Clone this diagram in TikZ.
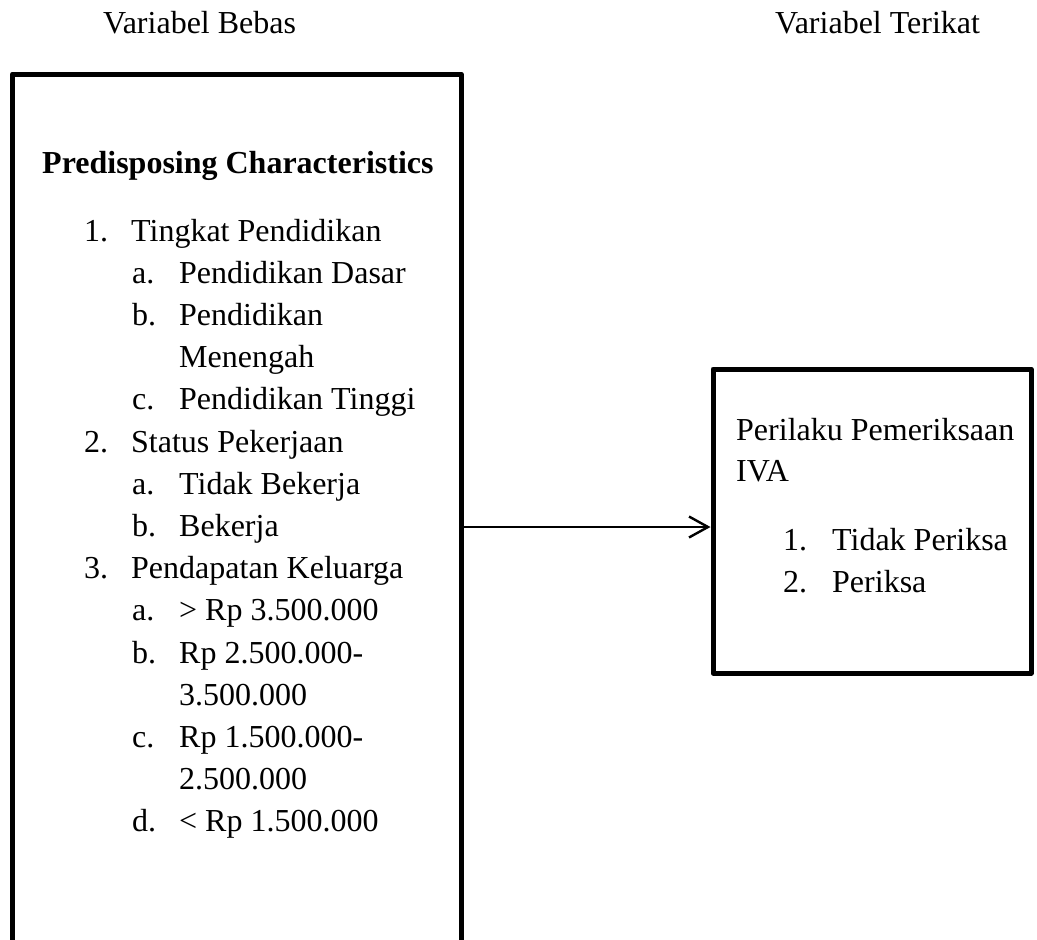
\documentclass[tikz,border=0pt]{standalone}
\usepackage{fontspec}
\setmainfont{Liberation Serif}
\usetikzlibrary{positioning,arrows.meta,calc}
\tikzset{
  flow/.style={-{Straight Barb[length=19pt,width=21pt,line width=2.4pt]},line width=2pt,draw=black},
  framebox/.style={draw=black,line width=5pt,inner sep=0pt,line join=round},
  txt/.style={anchor=base west,inner sep=0pt,font=\fontsize{32}{40}\selectfont},
  boldtxt/.style={anchor=base west,inner sep=0pt,font=\fontsize{32}{40}\selectfont\bfseries}
}

\begin{document}
\begin{tikzpicture}[x=1pt,y=-1pt]
  \clip (0,0) rectangle (1037,940);
  % boxes
  \node[framebox,minimum width=448.5pt,minimum height=930pt] (bebas) at (236.75,539) {};
  \node[framebox,minimum width=318pt,minimum height=304pt] (terikat) at (872,521) {};
  % column titles
  \node[txt] (tbebas) at (103,33) {Variabel Bebas};
  \node[txt] (tterikat) at (775,33) {Variabel Terikat};
  % left box
  \node[boldtxt] (judul) at (42,173) {Predisposing Characteristics};
  \node[txt] (n1) at (84,241) {1.};
  \node[txt] (t1) at (131,241) {Tingkat Pendidikan};
  \node[txt] (a1) at (132,283.2) {a.};
  \node[txt] (ta1) at (179,283.2) {Pendidikan Dasar};
  \node[txt] (b1) at (132,325.4) {b.};
  \node[txt] (tb1) at (179,325.4) {Pendidikan};
  \node[txt] (tb1x) at (179,367.6) {Menengah};
  \node[txt] (c1) at (132,409.8) {c.};
  \node[txt] (tc1) at (179,409.8) {Pendidikan Tinggi};
  \node[txt] (n2) at (84,452) {2.};
  \node[txt] (t2) at (131,452) {Status Pekerjaan};
  \node[txt] (a2) at (132,494.2) {a.};
  \node[txt] (ta2) at (179,494.2) {Tidak Bekerja};
  \node[txt] (b2) at (132,536.4) {b.};
  \node[txt] (tb2) at (179,536.4) {Bekerja};
  \node[txt] (n3) at (84,578.6) {3.};
  \node[txt] (t3) at (131,578.6) {Pendapatan Keluarga};
  \node[txt] (a3) at (132,620.8) {a.};
  \node[txt] (ta3) at (179,620.8) {> Rp 3.500.000};
  \node[txt] (b3) at (132,663) {b.};
  \node[txt] (tb3) at (179,663) {Rp 2.500.000-};
  \node[txt] (tb3x) at (179,705.2) {3.500.000};
  \node[txt] (c3) at (132,747.4) {c.};
  \node[txt] (tc3) at (179,747.4) {Rp 1.500.000-};
  \node[txt] (tc3x) at (179,789.6) {2.500.000};
  \node[txt] (d3) at (132,831.8) {d.};
  \node[txt] (td3) at (179,831.8) {< Rp 1.500.000};
  % right box
  \node[txt] (perilaku) at (736,440) {Perilaku Pemeriksaan};
  \node[txt] (iva) at (736,481) {IVA};
  \node[txt] (m1) at (783,550) {1.};
  \node[txt] (tm1) at (832,550) {Tidak Periksa};
  \node[txt] (m2) at (783,592) {2.};
  \node[txt] (tm2) at (832,592) {Periksa};
  % arrow
  \coordinate (tip) at ([yshift=-6pt]terikat.west);
  \draw[flow] (tip -| bebas.east) -- (tip);
\end{tikzpicture}
\end{document}
